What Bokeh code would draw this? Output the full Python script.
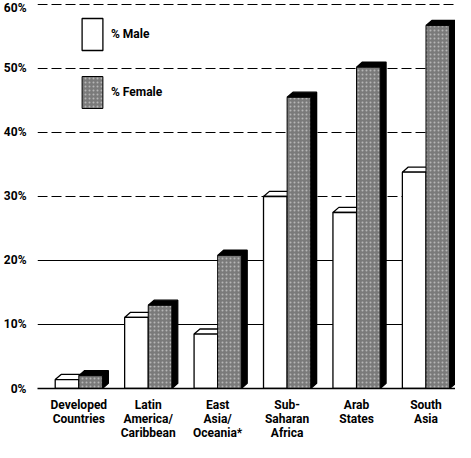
from bokeh.plotting import figure
from bokeh.models import Range1d, FixedTicker, Grid, Legend, LegendItem
from bokeh.embed import file_html
from bokeh.resources import INLINE

# ---- data ----
categories = ["Developed\nCountries", "Latin\nAmerica/\nCaribbean", "East\nAsia/\nOceania*",
              "Sub-\nSaharan\nAfrica", "Arab\nStates", "South\nAsia"]
male = [1.4, 11.1, 8.5, 30.0, 27.5, 33.8]
female = [2.0, 13.0, 20.8, 45.5, 50.2, 56.7]
y_ticks = [0, 10, 20, 30, 40, 50, 60]
y_tick_labels = ["0%", "10%", "20%", "30%", "40%", "50%", "60%"]

# ---- style ----
FONT = "Roboto"
BAR_W = 0.34
DX = 0.085
DY = 0.8

xs = list(range(len(categories)))

p = figure(width=455, height=442, output_backend="svg", toolbar_location=None,
           x_range=Range1d(-0.595, 5.425), y_range=Range1d(0, 60.31),
           min_border_left=30, min_border_right=0, min_border_top=2, min_border_bottom=50)
p.outline_line_color = None
p.background_fill_color = "white"
p.border_fill_color = "white"

# grids
p.xgrid.visible = False
p.ygrid.ticker = FixedTicker(ticks=[10, 20])
p.ygrid.grid_line_color = "black"
p.ygrid.grid_line_width = 1
grid2 = Grid(dimension=1, ticker=FixedTicker(ticks=[30, 40, 50, 60]),
             grid_line_color="black", grid_line_dash="10 4", grid_line_width=1)
p.add_layout(grid2)

# y axis
p.yaxis.ticker = FixedTicker(ticks=y_ticks)
p.yaxis.major_label_overrides = {t: l for t, l in zip(y_ticks, y_tick_labels)}
p.yaxis.axis_line_color = None
p.yaxis.major_tick_line_color = None
p.yaxis.minor_tick_line_color = None
p.yaxis.major_label_standoff = 5
p.yaxis.major_label_text_font = FONT
p.yaxis.major_label_text_font_style = "bold"
p.yaxis.major_label_text_font_size = "12px"
p.yaxis.major_label_text_color = "black"

# x axis
p.xaxis.ticker = FixedTicker(ticks=xs)
p.xaxis.major_label_overrides = {x: c for x, c in zip(xs, categories)}
p.xaxis.axis_line_color = "black"
p.xaxis.axis_line_width = 1.5
p.xaxis.major_tick_line_color = None
p.xaxis.minor_tick_line_color = None
p.xaxis.major_label_standoff = 3
p.xaxis.major_label_text_font = FONT
p.xaxis.major_label_text_font_style = "bold"
p.xaxis.major_label_text_font_size = "12px"
p.xaxis.major_label_text_line_height = 1.0
p.xaxis.major_label_text_color = "black"

def extrusion(lefts, rights, tops):
    exs, eys = [], []
    for x0, x1, h in zip(lefts, rights, tops):
        exs.append([x0, x0 + DX, x1 + DX, x1 + DX, x1, x1])
        eys.append([h, h + DY, h + DY, DY, 0, h])
    return exs, eys

m_left = [x - BAR_W for x in xs]
m_right = [x for x in xs]
f_left = [x for x in xs]
f_right = [x + BAR_W for x in xs]

mx, my = extrusion(m_left, m_right, male)
p.patches(xs=mx, ys=my, fill_color="white", line_color="black", line_width=1.3)
male_front = p.quad(left=m_left, right=m_right, bottom=0, top=male,
                    fill_color="white", line_color="black", line_width=1.3)

fx, fy = extrusion(f_left, f_right, female)
p.patches(xs=fx, ys=fy, fill_color="black", line_color="black", line_width=1.3)
female_front = p.quad(left=f_left, right=f_right, bottom=0, top=female,
                      fill_color="#7a7a7a", line_color="black", line_width=1,
                      hatch_pattern="dot", hatch_color="white", hatch_alpha=0.45, hatch_scale=4)

legend = Legend(items=[LegendItem(label="% Male", renderers=[male_front]),
                       LegendItem(label="% Female", renderers=[female_front])],
                location=(42, 276), glyph_width=26, glyph_height=40, spacing=18,
                padding=0, margin=0, border_line_color=None, background_fill_alpha=0,
                label_text_font=FONT, label_text_font_style="bold",
                label_text_font_size="12px", label_standoff=6, label_text_color="black")
p.add_layout(legend)

open("out.html", "w").write(file_html(p, INLINE))
